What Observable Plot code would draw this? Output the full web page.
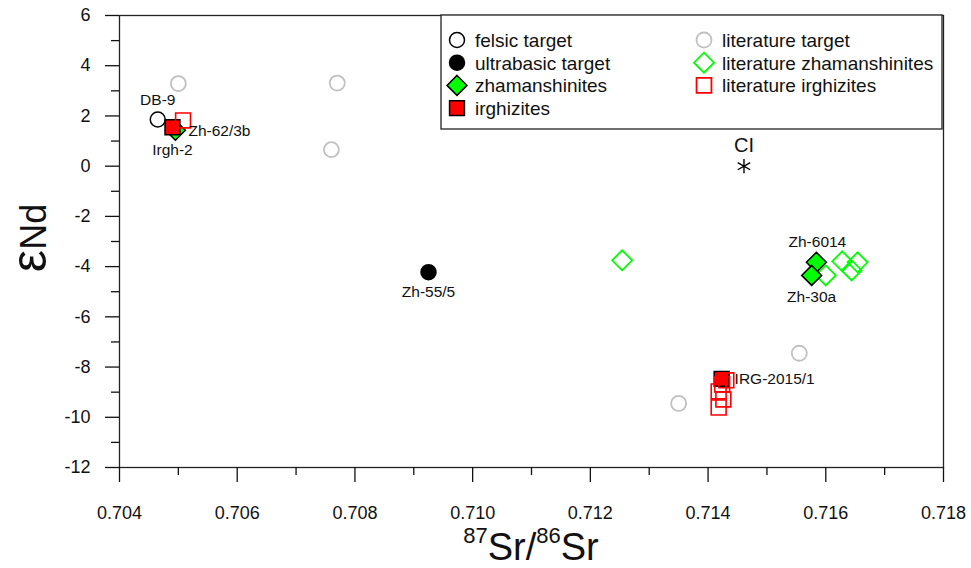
<!DOCTYPE html>
<html>
<head>
<meta charset="utf-8">
<script src="https://cdn.jsdelivr.net/npm/d3@7"></script>
<script src="https://cdn.jsdelivr.net/npm/@observablehq/plot@0.6"></script>
<style>
  body { margin: 0; background: #fff; }
  #chart svg { display: block; }
</style>
</head>
<body>
<div id="chart"></div>
<script>
// 87Sr/86Sr vs εNd for target rocks, impact glasses and literature data

const felsicTarget = [{ sample: "DB-9", sr: 0.70465, nd: 1.86 }];
const ultrabasicTarget = [{ sample: "Zh-55/5", sr: 0.70925, nd: -4.22 }];
const zhamanshinites = [
  { sample: "Zh-62/3b", sr: 0.70495, nd: 1.43 },
  { sample: "Zh-6014", sr: 0.71584, nd: -3.83 },
  { sample: "Zh-30a", sr: 0.71576, nd: -4.35 }
];
const irghizites = [
  { sample: "Irgh-2", sr: 0.70490, nd: 1.55 },
  { sample: "IRG-2015/1", sr: 0.71423, nd: -8.47 }
];
const literatureTarget = [
  { sr: 0.70500, nd: 3.29 },
  { sr: 0.70770, nd: 3.31 },
  { sr: 0.70760, nd: 0.66 },
  { sr: 0.71350, nd: -9.45 },
  { sr: 0.71555, nd: -7.45 }
];
const literatureZhamanshinites = [
  { sr: 0.71254, nd: -3.75 },
  { sr: 0.71600, nd: -4.35 },
  { sr: 0.71628, nd: -3.79 },
  { sr: 0.71654, nd: -3.83 },
  { sr: 0.71644, nd: -4.15 }
];
const literatureIrghizites = [
  { sr: 0.70508, nd: 1.82 },
  { sr: 0.71431, nd: -8.53 },
  { sr: 0.71424, nd: -8.69 },
  { sr: 0.71418, nd: -8.97 },
  { sr: 0.71426, nd: -9.29 },
  { sr: 0.71418, nd: -9.61 }
];
const chondrite = [{ label: "CI", sr: 0.71461, nd: 0 }];

const xTicks = [0.704, 0.706, 0.708, 0.710, 0.712, 0.714, 0.716, 0.718];
const xMinorTicks = [0.705, 0.707, 0.709, 0.711, 0.713, 0.715, 0.717];
const yTicks = [-12, -10, -8, -6, -4, -2, 0, 2, 4, 6];
const yMinorTicks = [-11, -9, -7, -5, -3, -1, 1, 3, 5];

const legendItems = [
  { name: "felsic target", symbol: "circle", fill: "white", stroke: "black" },
  { name: "ultrabasic target", symbol: "circle", fill: "black", stroke: "black" },
  { name: "zhamanshinites", symbol: "diamond2", fill: "#00ff00", stroke: "black" },
  { name: "irghizites", symbol: "square", fill: "#ff0000", stroke: "black" },
  { name: "literature target", symbol: "circle", fill: "none", stroke: "#c0c0c0" },
  { name: "literature zhamanshinites", symbol: "diamond2", fill: "none", stroke: "#00ff00" },
  { name: "literature irghizites", symbol: "square", fill: "none", stroke: "#ff0000" }
];

const R = { circle: 7.5, diamond2: 9, square: 8.4 };
const font = "'Liberation Sans', Arial, sans-serif";
const labelSize = 15.5;
const pick = (arr, name) => arr.filter(d => d.sample === name);

const chart = Plot.plot({
  width: 971,
  height: 568,
  marginLeft: 119,
  marginRight: 28,
  marginTop: 15,
  marginBottom: 101,
  x: { domain: [0.704, 0.718] },
  y: { domain: [-12, 6] },
  style: { fontFamily: font, fontSize: "18px", color: "#111", background: "white" },
  marks: [
    Plot.frame({ stroke: "#222", strokeWidth: 1.3 }),
    Plot.axisX(xTicks, { tickSize: 15, tickPadding: 24, strokeWidth: 1.3, tickFormat: d3.format(".3f"), label: null }),
    Plot.axisX(xMinorTicks, { tickSize: 8, strokeWidth: 1.3, tickFormat: () => "", label: null }),
    Plot.axisY(yTicks, { tickSize: 14, tickPadding: 15, strokeWidth: 1.3, tickFormat: d => String(d), label: null }),
    Plot.axisY(yMinorTicks, { tickSize: 8, strokeWidth: 1.3, tickFormat: () => "", label: null }),

    Plot.dot(literatureTarget, { x: "sr", y: "nd", symbol: "circle", r: R.circle, stroke: "#c0c0c0", strokeWidth: 1.8, fill: "none" }),
    Plot.dot(literatureZhamanshinites, { x: "sr", y: "nd", symbol: "diamond2", r: R.diamond2, stroke: "#00ff00", strokeWidth: 1.8, fill: "none" }),
    Plot.dot(felsicTarget, { x: "sr", y: "nd", symbol: "circle", r: R.circle, stroke: "black", strokeWidth: 1.5, fill: "white" }),
    Plot.dot(ultrabasicTarget, { x: "sr", y: "nd", symbol: "circle", r: R.circle, stroke: "black", strokeWidth: 1.5, fill: "black" }),
    Plot.dot(zhamanshinites, { x: "sr", y: "nd", symbol: "diamond2", r: R.diamond2, stroke: "black", strokeWidth: 1.5, fill: "#00ff00" }),
    Plot.dot(irghizites, { x: "sr", y: "nd", symbol: "square", r: R.square, stroke: "black", strokeWidth: 1.5, fill: "#ff0000" }),
    Plot.dot(literatureIrghizites, { x: "sr", y: "nd", symbol: "square", r: R.square, stroke: "#ff0000", strokeWidth: 1.6, fill: "none" }),
    Plot.dot(chondrite, { x: "sr", y: "nd", symbol: "asterisk", r: 6.8, stroke: "black", strokeWidth: 1.4 }),

    // sample labels
    Plot.text(chondrite, { x: "sr", y: "nd", text: "label", dy: -21, fontSize: 20 }),
    Plot.text(felsicTarget, { x: "sr", y: "nd", text: "sample", dy: -19, fontSize: labelSize }),
    Plot.text(ultrabasicTarget, { x: "sr", y: "nd", text: "sample", dy: 20, fontSize: labelSize }),
    Plot.text(pick(zhamanshinites, "Zh-62/3b"), { x: "sr", y: "nd", text: "sample", dx: 13, dy: 1, textAnchor: "start", fontSize: labelSize }),
    Plot.text(pick(zhamanshinites, "Zh-6014"), { x: "sr", y: "nd", text: "sample", dx: 1, dy: -20, fontSize: labelSize }),
    Plot.text(pick(zhamanshinites, "Zh-30a"), { x: "sr", y: "nd", text: "sample", dy: 22, fontSize: labelSize }),
    Plot.text(pick(irghizites, "Irgh-2"), { x: "sr", y: "nd", text: "sample", dy: 23, fontSize: labelSize }),
    Plot.text(pick(irghizites, "IRG-2015/1"), { x: "sr", y: "nd", text: "sample", dx: 13, textAnchor: "start", fontSize: labelSize })
  ]
});

document.getElementById("chart").append(chart);

const svg = d3.select(chart);

// axis titles with super/subscript parts
const xTitle = svg.append("text")
  .attr("x", 531).attr("y", 560)
  .attr("text-anchor", "middle")
  .attr("font-family", font)
  .attr("fill", "#111");
xTitle.append("tspan").attr("font-size", 22).attr("dy", -17).text("87");
xTitle.append("tspan").attr("font-size", 38).attr("dy", 17).text("Sr/");
xTitle.append("tspan").attr("font-size", 22).attr("dy", -17).text("86");
xTitle.append("tspan").attr("font-size", 38).attr("dy", 17).text("Sr");

const yTitle = svg.append("text")
  .attr("transform", "translate(46,238) rotate(-90)")
  .attr("text-anchor", "middle")
  .attr("font-family", font)
  .attr("fill", "#111");
yTitle.append("tspan").attr("font-size", 50).text("ε");
yTitle.append("tspan").attr("font-size", 36).text("Nd");

// legend box
const legend = svg.append("g")
  .attr("font-family", font)
  .attr("font-size", 19)
  .attr("text-anchor", "start")
  .attr("fill", "#111");
legend.append("rect")
  .attr("x", 441).attr("y", 15).attr("width", 501).attr("height", 114)
  .attr("fill", "white").attr("stroke", "#222").attr("stroke-width", 1.3);

const symbolTypes = { circle: d3.symbolCircle, diamond2: d3.symbolDiamond2, square: d3.symbolSquare };
legendItems.forEach((item, i) => {
  const col = i < 4 ? 0 : 1;
  const row = i < 4 ? i : i - 4;
  const sx = col === 0 ? 457 : 704;
  const tx = col === 0 ? 475 : 722;
  const cy = 40 + row * 22.7;
  const r = R[item.symbol];
  legend.append("path")
    .attr("transform", `translate(${sx},${cy})`)
    .attr("d", d3.symbol(symbolTypes[item.symbol], r * r * Math.PI)())
    .attr("fill", item.fill)
    .attr("stroke", item.stroke)
    .attr("stroke-width", item.stroke === "black" ? 1.5 : 1.8);
  legend.append("text")
    .attr("x", tx).attr("y", cy).attr("dy", "0.36em")
    .attr("text-anchor", "start")
    .text(item.name);
});
</script>
</body>
</html>
